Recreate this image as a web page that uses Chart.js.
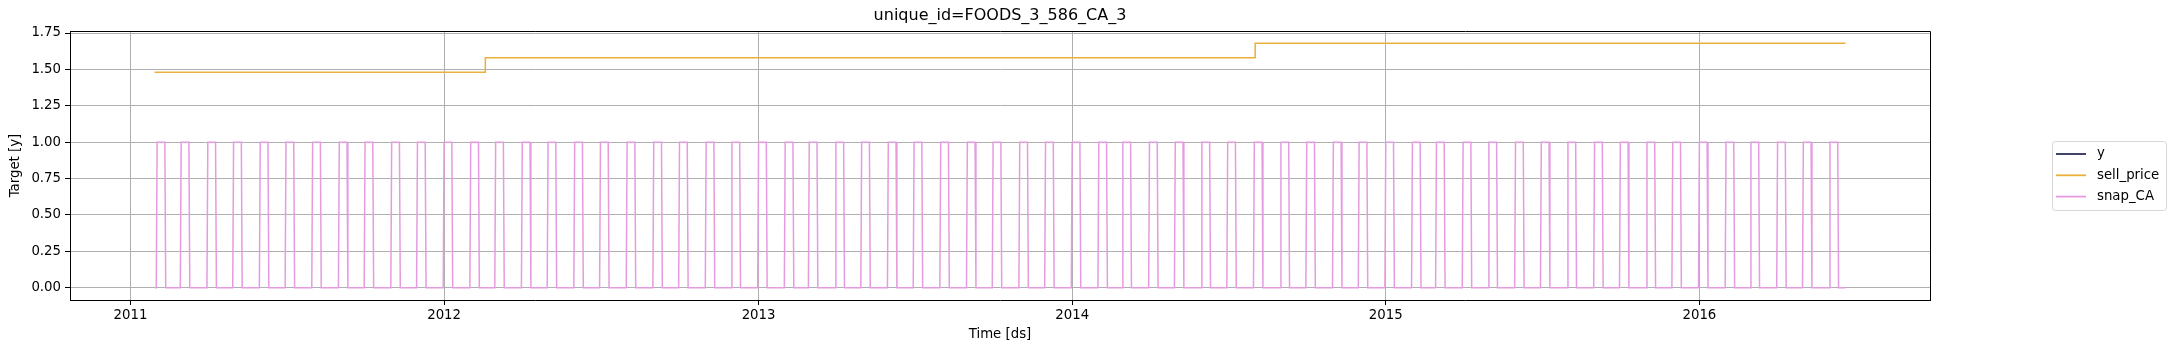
<!DOCTYPE html>
<html>
<head>
<meta charset="utf-8">
<script src="https://cdn.jsdelivr.net/npm/chart.js@4.4.1/dist/chart.umd.min.js"></script>
<style>
  html, body { margin: 0; padding: 0; background: #fff; }
  #wrap { width: 2173px; height: 353px; }
</style>
</head>
<body>
<div id="wrap"><canvas id="myChart" width="2173" height="353"></canvas></div>
<script>
// data
const seriesNames = ['y', 'sell_price', 'snap_CA'];
const seriesColors = ['#2c2f5a', '#e9b13c', '#e59be0'];
const dataStart = '2011-01-29';
const dataEnd = '2016-06-19';
// y has no visible values in the picture
const yDates = [];
const yValues = [];
// sell_price change points
const priceDates = ['2011-01-29', '2012-02-18', '2014-08-02', '2016-06-19'];
const priceValues = [1.48, 1.58, 1.68, 1.68];
// snap_CA is 1 on days 1..10 of these months, 0 otherwise
const snapMonths = [
    '2011-02', '2011-03', '2011-04', '2011-05', '2011-06', '2011-07', '2011-08', '2011-09', '2011-10', '2011-11', '2011-12',
    '2012-01', '2012-02', '2012-03', '2012-04', '2012-05', '2012-06', '2012-07', '2012-08', '2012-09', '2012-10', '2012-11', '2012-12',
    '2013-01', '2013-02', '2013-03', '2013-04', '2013-05', '2013-06', '2013-07', '2013-08', '2013-09', '2013-10', '2013-11', '2013-12',
    '2014-01', '2014-02', '2014-03', '2014-04', '2014-05', '2014-06', '2014-07', '2014-08', '2014-09', '2014-10', '2014-11', '2014-12',
    '2015-01', '2015-02', '2015-03', '2015-04', '2015-05', '2015-06', '2015-07', '2015-08', '2015-09', '2015-10', '2015-11', '2015-12',
    '2016-01', '2016-02', '2016-03', '2016-04', '2016-05', '2016-06',
];
const snapOnDays = ['01', '10'];
const tickYears = [2011, 2012, 2013, 2014, 2015, 2016];
const yTicks = [0, 0.25, 0.5, 0.75, 1, 1.25, 1.5, 1.75];

const DAY = 86400000;
const ms = (s) => Date.parse(s);

const yPoints = yDates.map((d, i) => ({ x: ms(d), y: yValues[i] }));
const pricePoints = priceDates.map((d, i) => ({ x: ms(d), y: priceValues[i] }));

const snapPoints = [{ x: ms(dataStart), y: 0 }];
snapMonths.forEach((m) => {
    const on = ms(m + '-' + snapOnDays[0]);
    const off = ms(m + '-' + snapOnDays[1]);
    snapPoints.push({ x: on - DAY, y: 0 });
    snapPoints.push({ x: on, y: 1 });
    snapPoints.push({ x: off, y: 1 });
    snapPoints.push({ x: off + DAY, y: 0 });
});
snapPoints.push({ x: ms(dataEnd), y: 0 });

const span = ms(dataEnd) - ms(dataStart);
const xMin = ms(dataStart) - span * 0.05;
const xMax = ms(dataEnd) + span * 0.05;
const yMax = Math.max(...priceValues);
const yMin = -yMax * 0.05;

Chart.defaults.font.family = "'DejaVu Sans', sans-serif";
Chart.defaults.font.size = 13.3;
Chart.defaults.color = '#000';

// top/right spines and matplotlib style legend
const extras = {
    id: 'extras',
    afterDraw(chart) {
        const { ctx, chartArea: a } = chart;
        ctx.save();
        ctx.strokeStyle = '#000';
        ctx.lineWidth = 1;
        ctx.beginPath();
        ctx.moveTo(a.left, a.top + 0.5);
        ctx.lineTo(a.right + 0.5, a.top + 0.5);
        ctx.lineTo(a.right + 0.5, a.bottom);
        ctx.stroke();

        const lx = 2052, ly = 141, lw = 114, lh = 69;
        ctx.beginPath();
        ctx.roundRect(lx + 0.5, ly + 0.5, lw, lh, 3);
        ctx.fillStyle = 'rgba(255,255,255,0.8)';
        ctx.fill();
        ctx.strokeStyle = '#d6d6d6';
        ctx.stroke();
        ctx.font = "13.3px 'DejaVu Sans', sans-serif";
        ctx.textBaseline = 'middle';
        chart.data.datasets.forEach((ds, i) => {
            const ry = 154 + i * 21.3;
            ctx.strokeStyle = ds.borderColor;
            ctx.lineWidth = 1.8;
            ctx.beginPath();
            ctx.moveTo(lx + 4, ry);
            ctx.lineTo(lx + 34, ry);
            ctx.stroke();
            ctx.fillStyle = '#000';
            ctx.fillText(ds.label, lx + 45, ry);
        });
        ctx.restore();
    },
};

const data = {
    datasets: [
        { label: seriesNames[0], data: yPoints, borderColor: seriesColors[0] },
        { label: seriesNames[1], data: pricePoints, borderColor: seriesColors[1], stepped: 'before' },
        { label: seriesNames[2], data: snapPoints, borderColor: seriesColors[2] },
    ],
};

const config = {
    type: 'line',
    data,
    options: {
        responsive: false,
        animation: false,
        events: [],
        layout: { padding: { left: 0, right: 243, top: 0, bottom: 0 } },
        elements: {
            point: { radius: 0 },
            line: { borderWidth: 1.5, tension: 0, fill: false },
        },
        plugins: {
            legend: { display: false },
            tooltip: { enabled: false },
            title: {
                display: true,
                text: 'unique_id=FOODS_3_586_CA_3',
                fullSize: false,
                font: { size: 16, weight: 'normal' },
                color: '#000',
                padding: { top: 6, bottom: 5.8 },
            },
        },
        scales: {
            x: {
                type: 'linear',
                min: xMin,
                max: xMax,
                afterFit: (s) => { s.height = 53; },
                afterBuildTicks: (s) => { s.ticks = tickYears.map((y) => ({ value: Date.UTC(y, 0, 1) })); },
                ticks: {
                    autoSkip: false,
                    maxRotation: 0,
                    padding: 3,
                    callback: (v) => String(new Date(v).getUTCFullYear()),
                },
                grid: { color: '#b0b0b0', lineWidth: 1, tickColor: '#000', tickLength: 5 },
                border: { color: '#000', width: 1 },
                title: { display: true, text: 'Time [ds]', padding: { top: 0, bottom: 10 } },
            },
            y: {
                min: yMin,
                max: yMax * 1.05,
                afterFit: (s) => { s.width = 70; },
                afterBuildTicks: (s) => { s.ticks = yTicks.map((v) => ({ value: v })); },
                ticks: {
                    padding: 4,
                    callback: (v) => v.toFixed(2),
                },
                grid: { color: '#b0b0b0', lineWidth: 1, tickColor: '#000', tickLength: 5 },
                border: { color: '#000', width: 1 },
                title: { display: true, text: 'Target [y]', padding: { top: 8, bottom: 0 } },
            },
        },
    },
    plugins: [extras],
};

const myChart = new Chart(document.getElementById('myChart'), config);
</script>
</body>
</html>
